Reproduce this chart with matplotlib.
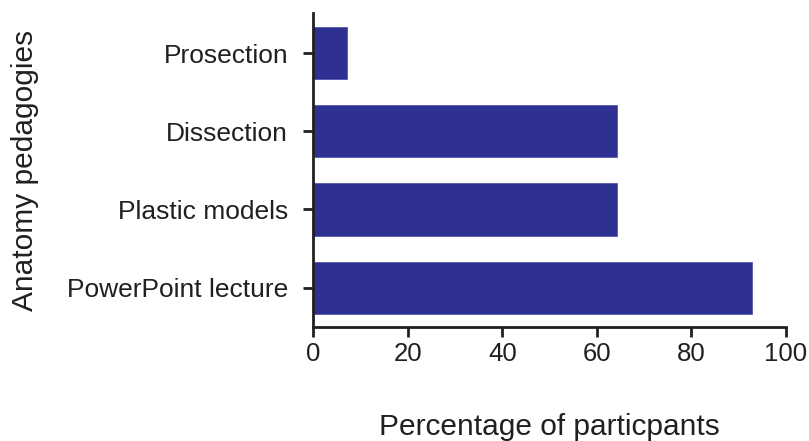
import matplotlib

matplotlib.use("Agg")
import matplotlib.pyplot as plt

# data (percent of participants, bottom to top)
pedagogies = ["PowerPoint lecture", "Plastic models", "Dissection", "Prosection"]
percentages = [92.9, 64.3, 64.3, 7.1]
xticks = [0, 20, 40, 60, 80, 100]

barColor = "#2E3192"
inkColor = "#231F20"

plt.rcParams["font.family"] = ["Liberation Sans", "DejaVu Sans"]

fig = plt.figure(figsize=(8.09, 4.41), dpi=100)
ax = fig.add_axes([0.3873, 0.2592, 0.5843, 0.7106])

ax.barh(range(len(pedagogies)), percentages, height=0.667, color=barColor, edgecolor="#5558b0", linewidth=0.6)

ax.set_xlim(0, 100)
ax.set_ylim(-0.5, 3.51)
ax.set_xticks(xticks)
ax.set_yticks(range(len(pedagogies)))
ax.set_yticklabels(pedagogies)

for side in ["top", "right"]:
    ax.spines[side].set_visible(False)
for side in ["left", "bottom"]:
    ax.spines[side].set_linewidth(2.0)
    ax.spines[side].set_color(inkColor)

ax.tick_params(axis="both", length=7.2, width=2.0, color=inkColor, labelcolor=inkColor)
ax.tick_params(axis="x", pad=4, labelsize=18.5)
ax.tick_params(axis="y", pad=11, labelsize=19)

ax.set_xlabel("Percentage of particpants", fontsize=21.5, color=inkColor, labelpad=34)
ax.set_ylabel("Anatomy pedagogies", fontsize=21.5, color=inkColor, labelpad=20)

fig.savefig("out.png", dpi=100)
